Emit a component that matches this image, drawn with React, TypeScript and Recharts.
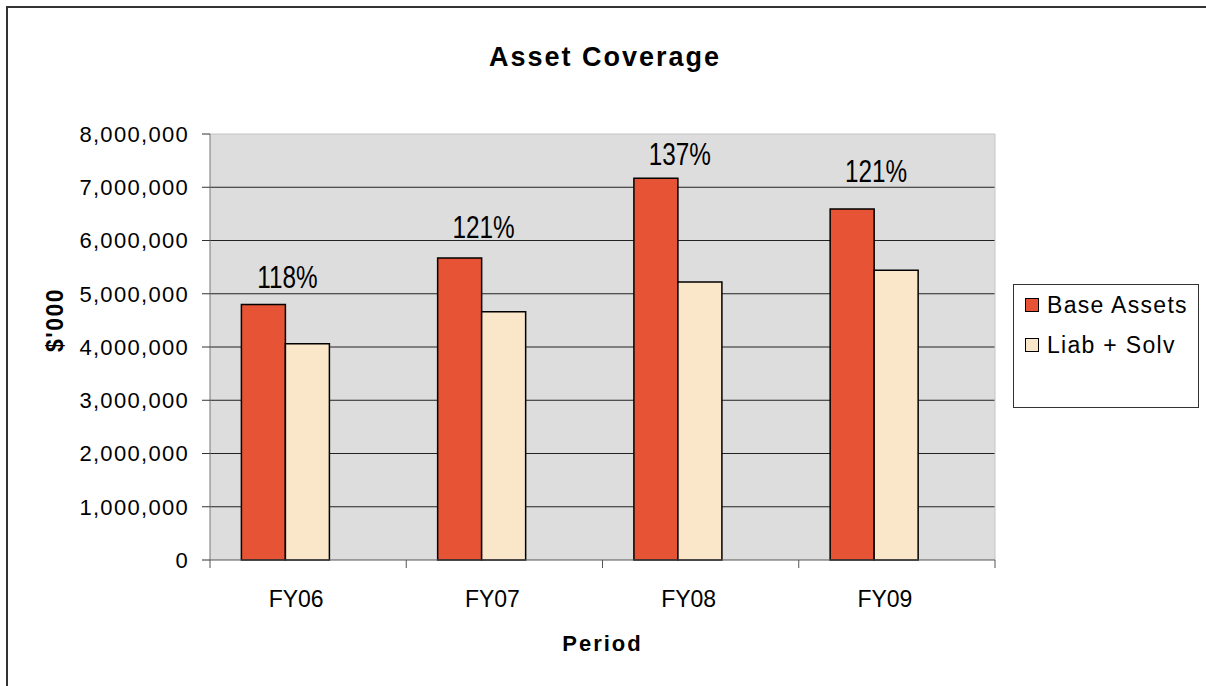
import React from "react";
import {
  BarChart,
  Bar,
  XAxis,
  YAxis,
  CartesianGrid,
  Legend,
  LabelList,
  Label,
} from "recharts";

const categories = ["FY06", "FY07", "FY08", "FY09"];
const baseAssets = [4800000, 5670000, 7170000, 6590000];
const liabSolv = [4060000, 4660000, 5220000, 5440000];
const coverageRatio = [1.18, 1.21, 1.37, 1.21];
const coverageLabels = ["118%", "121%", "137%", "121%"];
// where the % text sits, in $'000
const labelLevels = [5320000, 6250000, 7630000, 7310000];
const yTicks = [0, 1000000, 2000000, 3000000, 4000000, 5000000, 6000000, 7000000, 8000000];

const W = 1206;
const H = 686;
const MARGIN = { top: 134, right: 211, bottom: 46, left: 0 };
const Y_AXIS_W = 210;
const X_AXIS_H = 80;
const PLOT_W = W - MARGIN.right - Y_AXIS_W;

const FONT = '"Liberation Sans", Arial, sans-serif';
const BASE_COLOR = "#E65335";
const LIAB_COLOR = "#FAE6C9";

const data = categories.map((c, i) => ({
  period: c,
  base: baseAssets[i],
  liab: liabSolv[i],
  ratio: coverageRatio[i],
}));

function CategoryTick(props: any) {
  const { x, y, payload, index } = props;
  const band = PLOT_W / categories.length;
  const last = index === categories.length - 1;
  return (
    <g>
      <line x1={x - band / 2} x2={x - band / 2} y1={y - 8} y2={y} stroke="#555" />
      {last && <line x1={x + band / 2} x2={x + band / 2} y1={y - 8} y2={y} stroke="#555" />}
      <text
        x={x - 12}
        y={y + 31}
        textAnchor="middle"
        dominantBaseline="central"
        fontFamily={FONT}
        fontSize={23}
        fill="#000"
      >
        {payload.value}
      </text>
    </g>
  );
}

function renderCoverage(props: any) {
  const { x, y, width, height, index, value } = props;
  const v = Number(value);
  const cx = Number(x) + Number(width) + 2;
  const cy = Number(y) + Number(height) - (labelLevels[index] / v) * Number(height);
  return (
    <text
      transform={`translate(${cx} ${cy}) scale(0.76 1)`}
      x={0}
      y={0}
      textAnchor="middle"
      dominantBaseline="central"
      fontFamily={FONT}
      fontSize={32}
      fill="#000"
    >
      {coverageLabels[index]}
    </text>
  );
}

function LegendBox(props: any) {
  const items = (props.payload || []).filter((p: any) => p.type !== "none");
  return (
    <div
      style={{
        width: 186,
        height: 124,
        boxSizing: "border-box",
        border: "1px solid #333",
        background: "#fff",
        fontFamily: FONT,
        fontSize: 23,
        letterSpacing: 1.3,
        color: "#000",
      }}
    >
      {items.map((p: any) => (
        <div key={p.value} style={{ display: "flex", alignItems: "center", height: 40, paddingLeft: 11 }}>
          <span
            style={{
              display: "inline-block",
              width: 12,
              height: 12,
              background: p.color,
              border: "1.5px solid #000",
              marginRight: 8,
            }}
          />
          {p.value}
        </div>
      ))}
    </div>
  );
}

export default function App() {
  return (
    <div style={{ position: "absolute", left: 0, top: 0, width: W, height: H, overflow: "hidden", background: "#fff" }}>
      {/* chart frame: only the top and left edges fall inside the picture */}
      <div style={{ position: "absolute", left: 6, top: 6, width: W - 6, height: 2, background: "#333" }} />
      <div style={{ position: "absolute", left: 6, top: 6, width: 2, height: H - 6, background: "#333" }} />
      <div
        style={{
          position: "absolute",
          left: 0,
          width: 1210,
          top: 40,
          textAlign: "center",
          fontFamily: FONT,
          fontWeight: "bold",
          fontSize: 27,
          letterSpacing: 2,
          lineHeight: "34px",
        }}
      >
        Asset Coverage
      </div>
      <div style={{ position: "absolute", left: 0, top: 0 }}>
        <BarChart width={W} height={H} data={data} margin={MARGIN} barCategoryGap="16%" barGap={0}>
          <CartesianGrid
            vertical={false}
            fill="#DDDDDD"
            stroke="#222"
            horizontalValues={[1000000, 2000000, 3000000, 4000000, 5000000, 6000000, 7000000]}
          />
          <CartesianGrid
            stroke="#C4C4C4"
            horizontalCoordinatesGenerator={({ offset }: any) => [offset.top]}
            verticalCoordinatesGenerator={({ offset }: any) => [offset.left + offset.width]}
          />
          <XAxis
            dataKey="period"
            height={X_AXIS_H}
            tickLine={false}
            tickSize={8}
            tickMargin={0}
            axisLine={{ stroke: "#555" }}
            tick={<CategoryTick />}
          >
            <Label
              content={({ viewBox }: any) => (
                <text
                  x={viewBox.x + viewBox.width / 2}
                  y={viewBox.y + 83}
                  textAnchor="middle"
                  dominantBaseline="central"
                  fontFamily={FONT}
                  fontWeight="bold"
                  fontSize={22}
                  letterSpacing={2}
                >
                  Period
                </text>
              )}
            />
          </XAxis>
          <YAxis
            width={Y_AXIS_W}
            domain={[0, 8000000]}
            ticks={yTicks}
            interval={0}
            tickSize={8}
            tickMargin={13}
            axisLine={{ stroke: "#777" }}
            tickLine={{ stroke: "#333" }}
            tickFormatter={(v: number) => v.toLocaleString("en-US")}
            tick={{ fontFamily: FONT, fontSize: 22, fill: "#000", letterSpacing: 1.3 }}
          >
            <Label
              content={({ viewBox }: any) => {
                const cx = viewBox.x + 55;
                const cy = viewBox.y + viewBox.height / 2 - 27;
                return (
                  <text
                    x={cx}
                    y={cy}
                    transform={`rotate(-90 ${cx} ${cy})`}
                    textAnchor="middle"
                    dominantBaseline="central"
                    fontFamily={FONT}
                    fontWeight="bold"
                    fontSize={23}
                    letterSpacing={1.5}
                  >
                    $'000
                  </text>
                );
              }}
            />
          </YAxis>
          <Legend
            layout="horizontal"
            align="center"
            verticalAlign="middle"
            content={<LegendBox />}
            wrapperStyle={{ left: 1013, top: 284, width: 186, height: 124 }}
          />
          <Bar dataKey="base" name="Base Assets" fill={BASE_COLOR} stroke="#000" strokeWidth={1.5} isAnimationActive={false}>
            <LabelList dataKey="base" content={renderCoverage} />
          </Bar>
          <Bar dataKey="liab" name="Liab + Solv" fill={LIAB_COLOR} stroke="#000" strokeWidth={1.5} isAnimationActive={false} />
          <Bar dataKey="ratio" name="Coverage" fill="none" legendType="none" isAnimationActive={false} />
        </BarChart>
      </div>
    </div>
  );
}
